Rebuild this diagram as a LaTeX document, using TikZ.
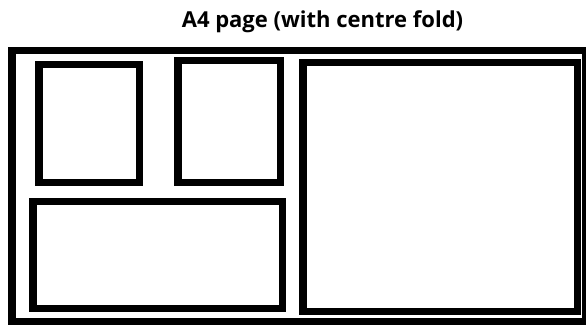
\documentclass[tikz,border=0pt]{standalone}
\usepackage{fontspec}
\setmainfont{Open Sans}

\begin{document}
\begin{tikzpicture}[x=1pt, y=-1pt,
    panel/.style={rectangle, draw, line width=7.5pt, inner sep=0pt},
    heading/.style={font=\bfseries\fontsize{22}{26}\selectfont}]
    \useasboundingbox (0,0) rectangle (586,324);
    \clip (0,0) rectangle (586,324);

    % ====== Title ======
    \node [heading, anchor=base] (title) at (322.5,27.5) {A4 page (with centre fold)};

    % ====== Page ======
    \node [panel, minimum width=573.5pt, minimum height=271pt] (page) at (298.75,186) {};

    % ====== Left half ======
    \node [panel, minimum width=100.5pt, minimum height=118pt]    (boxA) at (89,123.25) {};
    \node [panel, minimum width=102.5pt, minimum height=121.75pt] (boxB) at (229,121.375) {};
    \node [panel, minimum width=249.25pt, minimum height=106.75pt] (boxC) at (157.625,254.875) {};

    % ====== Right half ======
    \node [panel, minimum width=274.5pt, minimum height=248.75pt] (boxD) at (440,186.875) {};
\end{tikzpicture}
\end{document}
